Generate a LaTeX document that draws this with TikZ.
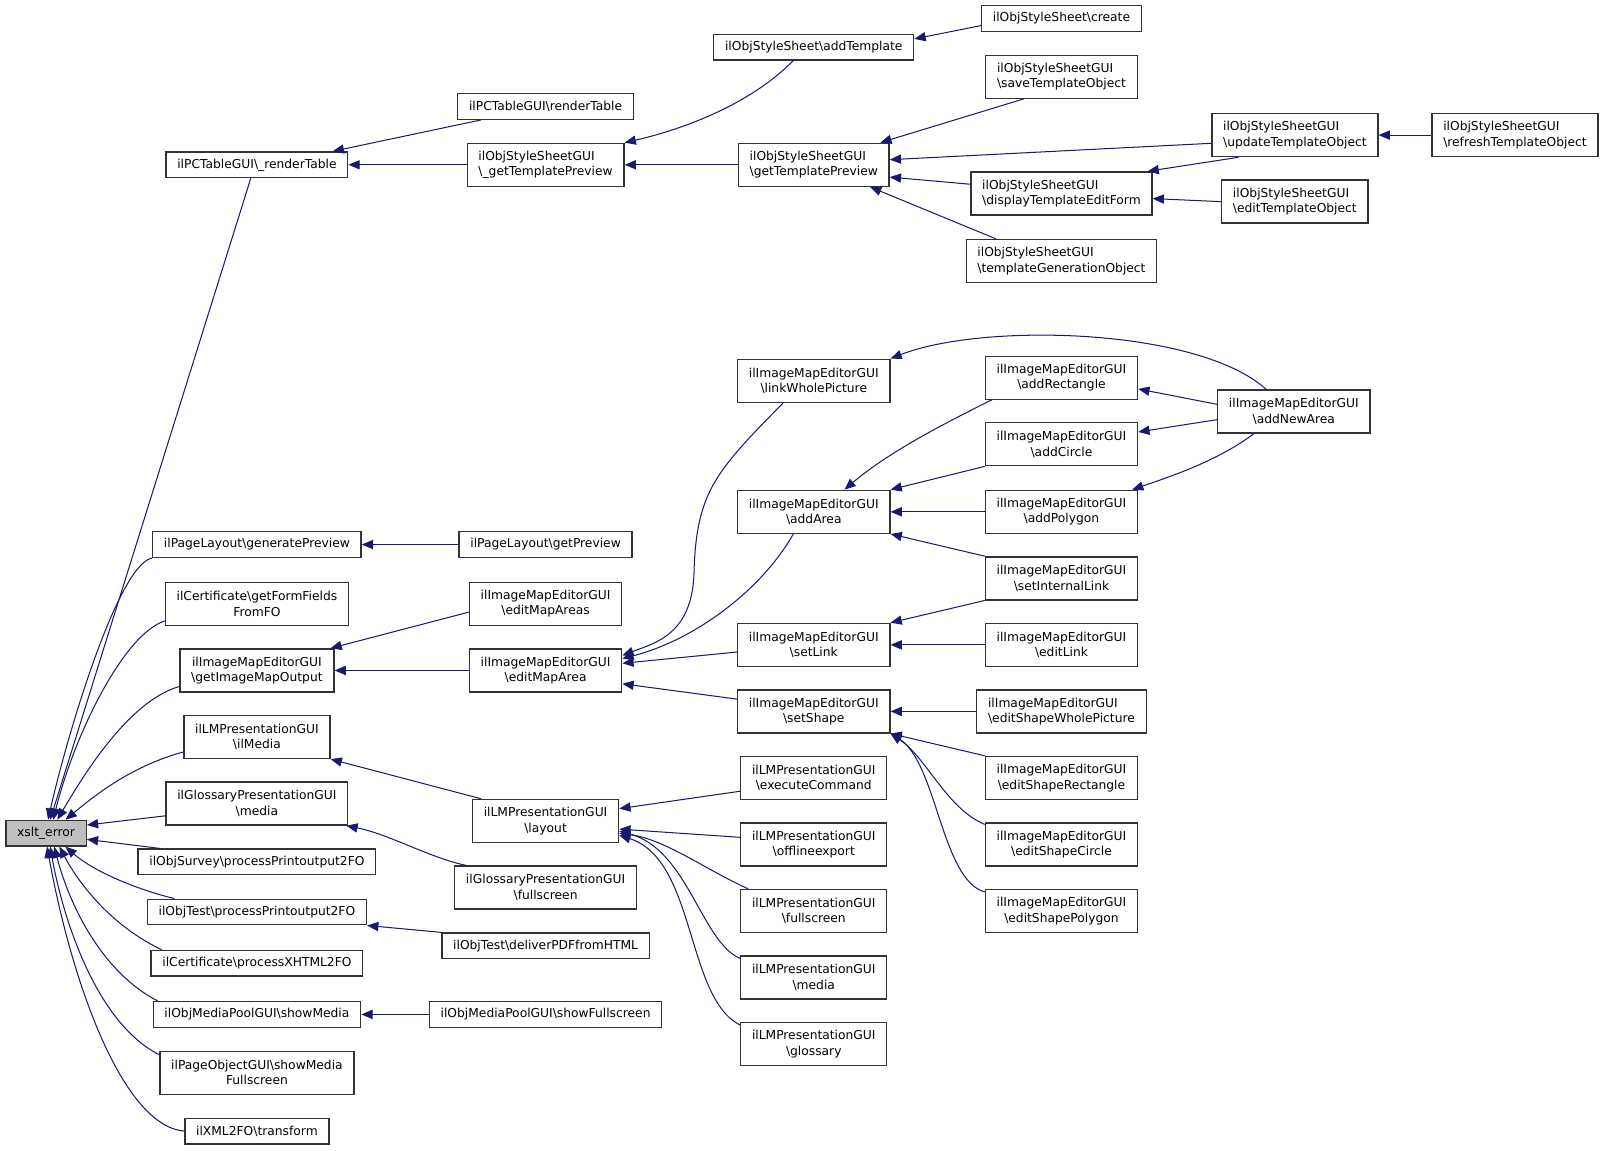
\documentclass[tikz,border=0pt]{standalone}
\usepackage{fontspec}
\setmainfont{DejaVu Sans}
\usetikzlibrary{arrows.meta}
\definecolor{azulnoche}{HTML}{191970}
\definecolor{bordegris}{HTML}{333333}
\definecolor{rellenogris}{HTML}{BFBFBF}
\newcommand{\barra}{\textbackslash}

\begin{document}
\begin{tikzpicture}[x=1pt,y=-1pt]
\tikzstyle{nodo funcion}=[draw=bordegris,line width=1.3pt,fill=white,inner xsep=11pt,inner ysep=3pt,minimum height=25pt,align=center,font=\fontsize{12}{15}\selectfont]
\tikzstyle{nodo doble}=[nodo funcion,minimum height=42pt]
\tikzstyle{nodo doble izq}=[nodo doble,align=left]
\tikzstyle{nodo raiz}=[nodo funcion,fill=rellenogris]
\tikzstyle{flecha}=[draw=azulnoche,line width=1pt,-{Triangle[length=11pt,width=9pt]}]

\useasboundingbox (0,0) rectangle (1568,1124);

\node[nodo raiz] (xslt) at (45,814) {xslt\_error};

% columna 1
\node[nodo funcion] (rendertbl) at (251,161) {ilPCTableGUI\barra\_renderTable};
\node[nodo funcion] (genprev) at (251,532) {ilPageLayout\barra{}generatePreview};
\node[nodo doble] (getform) at (251,590) {ilCertificate\barra{}getFormFields\\FromFO};
\node[nodo doble] (getimgmap) at (251,655) {ilImageMapEditorGUI\\\barra{}getImageMapOutput};
\node[nodo doble] (ilmedia) at (251,720) {ilLMPresentationGUI\\\barra{}ilMedia};
\node[nodo doble] (glosmedia) at (251,785) {ilGlossaryPresentationGUI\\\barra{}media};
\node[nodo funcion] (survey) at (251,842) {ilObjSurvey\barra{}processPrintoutput2FO};
\node[nodo funcion] (testprint) at (251,891) {ilObjTest\barra{}processPrintoutput2FO};
\node[nodo funcion] (xhtml) at (251,941) {ilCertificate\barra{}processXHTML2FO};
\node[nodo funcion] (showmedia) at (251,991) {ilObjMediaPoolGUI\barra{}showMedia};
\node[nodo doble] (pageobj) at (251,1048) {ilPageObjectGUI\barra{}showMedia\\Fullscreen};
\node[nodo funcion] (xml2fo) at (251,1105) {ilXML2FO\barra{}transform};

% columna 2
\node[nodo funcion] (pcrender) at (533,104) {ilPCTableGUI\barra{}renderTable};
\node[nodo doble izq] (gettplpriv) at (533,161) {ilObjStyleSheetGUI\\\barra\_getTemplatePreview};
\node[nodo funcion] (getprev) at (533,532) {ilPageLayout\barra{}getPreview};
\node[nodo doble] (editareas) at (533,590) {ilImageMapEditorGUI\\\barra{}editMapAreas};
\node[nodo doble] (editarea) at (533,655) {ilImageMapEditorGUI\\\barra{}editMapArea};
\node[nodo doble] (layout) at (533,802) {ilLMPresentationGUI\\\barra{}layout};
\node[nodo doble] (glosfull) at (533,867) {ilGlossaryPresentationGUI\\\barra{}fullscreen};
\node[nodo funcion] (deliverpdf) at (533,924) {ilObjTest\barra{}deliverPDFfromHTML};
\node[nodo funcion] (showfull) at (533,991) {ilObjMediaPoolGUI\barra{}showFullscreen};

% columna 3
\node[nodo funcion] (addtpl) at (795,46) {ilObjStyleSheet\barra{}addTemplate};
\node[nodo doble izq] (gettplprev) at (795,161) {ilObjStyleSheetGUI\\\barra{}getTemplatePreview};
\node[nodo doble] (linkwhole) at (795,372) {ilImageMapEditorGUI\\\barra{}linkWholePicture};
\node[nodo doble] (addarea) at (795,500) {ilImageMapEditorGUI\\\barra{}addArea};
\node[nodo doble] (setlink) at (795,630) {ilImageMapEditorGUI\\\barra{}setLink};
\node[nodo doble] (setshape) at (795,695) {ilImageMapEditorGUI\\\barra{}setShape};
\node[nodo doble] (execcmd) at (795,760) {ilLMPresentationGUI\\\barra{}executeCommand};
\node[nodo doble] (offline) at (795,825) {ilLMPresentationGUI\\\barra{}offlineexport};
\node[nodo doble] (lmfull) at (795,890) {ilLMPresentationGUI\\\barra{}fullscreen};
\node[nodo doble] (lmmedia) at (795,955) {ilLMPresentationGUI\\\barra{}media};
\node[nodo doble] (lmgloss) at (795,1020) {ilLMPresentationGUI\\\barra{}glossary};

% columna 4
\node[nodo funcion] (create) at (1037,18) {ilObjStyleSheet\barra{}create};
\node[nodo doble izq] (savetpl) at (1037,75) {ilObjStyleSheetGUI\\\barra{}saveTemplateObject};
\node[nodo doble izq] (disptpl) at (1037,189) {ilObjStyleSheetGUI\\\barra{}displayTemplateEditForm};
\node[nodo doble izq] (tplgen) at (1037,255) {ilObjStyleSheetGUI\\\barra{}templateGenerationObject};
\node[nodo doble] (addrect) at (1037,369) {ilImageMapEditorGUI\\\barra{}addRectangle};
\node[nodo doble] (addcircle) at (1037,434) {ilImageMapEditorGUI\\\barra{}addCircle};
\node[nodo doble] (addpoly) at (1037,500) {ilImageMapEditorGUI\\\barra{}addPolygon};
\node[nodo doble] (setintlink) at (1037,565) {ilImageMapEditorGUI\\\barra{}setInternalLink};
\node[nodo doble] (editlink) at (1037,630) {ilImageMapEditorGUI\\\barra{}editLink};
\node[nodo doble izq] (editwhole) at (1037,695) {ilImageMapEditorGUI\\\barra{}editShapeWholePicture};
\node[nodo doble] (editrect) at (1037,760) {ilImageMapEditorGUI\\\barra{}editShapeRectangle};
\node[nodo doble] (editcircle) at (1037,825) {ilImageMapEditorGUI\\\barra{}editShapeCircle};
\node[nodo doble] (editpoly) at (1037,890) {ilImageMapEditorGUI\\\barra{}editShapePolygon};

% columnas 5 y 6
\node[nodo doble izq] (updtpl) at (1265,132) {ilObjStyleSheetGUI\\\barra{}updateTemplateObject};
\node[nodo doble izq] (edittpl) at (1265,197) {ilObjStyleSheetGUI\\\barra{}editTemplateObject};
\node[nodo doble] (addnew) at (1264,402) {ilImageMapEditorGUI\\\barra{}addNewArea};
\node[nodo doble izq] (refreshtpl) at (1480,132) {ilObjStyleSheetGUI\\\barra{}refreshTemplateObject};

% llamadas a xslt_error
\draw[flecha] ([xshift=-6pt]rendertbl.south) -- ([xshift=4pt]xslt.north);
\draw[flecha] (genprev.south west) .. controls (115,552) and (65,720) .. ([xshift=2pt]xslt.north);
\draw[flecha] ([yshift=5pt]getform.south west) .. controls (120,620) and (72,720) .. ([xshift=7pt]xslt.north);
\draw[flecha] ([yshift=6pt]getimgmap.south west) .. controls (125,685) and (80,760) .. ([xshift=11pt]xslt.north);
\draw[flecha] ([yshift=7pt]ilmedia.south west) .. controls (130,748) and (95,775) .. ([xshift=19pt]xslt.north);
\draw[flecha] ([yshift=-12pt]glosmedia.west) -- ([yshift=8pt]xslt.east);
\draw[flecha] ([xshift=22pt]survey.north west) -- ([yshift=-6pt]xslt.east);
\draw[flecha] ([xshift=27pt]testprint.north west) .. controls (130,868) and (90,850) .. ([xshift=19pt]xslt.south);
\draw[flecha] ([xshift=11pt]xhtml.north west) .. controls (110,905) and (78,865) .. ([xshift=13pt]xslt.south);
\draw[flecha] ([xshift=5pt]showmedia.north west) .. controls (100,950) and (68,885) .. ([xshift=8pt]xslt.south);
\draw[flecha] ([yshift=-4pt]pageobj.north west) .. controls (95,1000) and (62,900) .. ([xshift=4pt]xslt.south);
\draw[flecha] (xml2fo.west) .. controls (120,1100) and (70,960) .. ([xshift=1pt]xslt.south);

% ilObjStyleSheet
\draw[flecha] ([xshift=-63pt]pcrender.south) -- ([xshift=74pt]rendertbl.north);
\draw[flecha] (gettplpriv.west) -- (rendertbl.east);
\draw[flecha] ([xshift=-20pt]addtpl.south) .. controls (730,105) and (660,128) .. (gettplpriv.north east);
\draw[flecha] (gettplprev.west) -- (gettplpriv.east);
\draw[flecha] ([yshift=-7pt]create.west) -- ([yshift=8pt]addtpl.east);
\draw[flecha] ([xshift=-37pt]savetpl.south) -- ([xshift=65pt]gettplprev.north);
\draw[flecha] ([yshift=-8pt]updtpl.west) -- ([yshift=5pt]gettplprev.east);
\draw[flecha] ([yshift=9pt]disptpl.west) -- ([yshift=-12pt]gettplprev.east);
\draw[flecha] ([xshift=-64pt]tplgen.north) -- ([xshift=55pt]gettplprev.south);
\draw[flecha] (refreshtpl.west) -- (updtpl.east);
\draw[flecha] ([xshift=-55pt]updtpl.south) -- ([xshift=-5pt]disptpl.north east);
\draw[flecha] (edittpl.west) -- ([yshift=-5pt]disptpl.east);

% columna 1 y 2
\draw[flecha] (getprev.west) -- (genprev.east);
\draw[flecha] ([yshift=-8pt]editareas.west) -- ([xshift=-4pt]getimgmap.north east);
\draw[flecha] (editarea.west) -- (getimgmap.east);
\draw[flecha] ([xshift=-63pt]layout.north) -- (ilmedia.south east);
\draw[flecha] ([xshift=-78pt]glosfull.north) .. controls (420,838) and (380,815) .. ([xshift=-2pt]glosmedia.south east);
\draw[flecha] (deliverpdf.north west) -- (testprint.south east);
\draw[flecha] (showfull.west) -- (showmedia.east);

% ilImageMapEditorGUI
\draw[flecha] ([xshift=-30pt]linkwhole.south) .. controls (700,460) and (680,480) .. (678,560) .. controls (676,620) and (640,628) .. ([yshift=-7pt]editarea.north east);
\draw[flecha] ([xshift=-20pt]addarea.south) .. controls (745,575) and (680,625) .. ([yshift=-10pt]editarea.north east);
\draw[flecha] ([yshift=-7pt]setlink.west) -- ([yshift=7pt]editarea.east);
\draw[flecha] ([yshift=12pt]setshape.west) -- ([yshift=-13pt]editarea.east);
\draw[flecha] ([xshift=-27pt]addnew.north) .. controls (1170,320) and (960,315) .. (linkwhole.north east);
\draw[flecha] ([yshift=7pt]addnew.west) -- ([yshift=-11pt]addrect.east);
\draw[flecha] ([yshift=-8pt]addnew.west) -- ([yshift=12pt]addcircle.east);
\draw[flecha] ([xshift=-39pt]addnew.south) .. controls (1190,450) and (1145,465) .. ([xshift=-6pt]addpoly.north east);
\draw[flecha] ([xshift=7pt]addrect.south west) .. controls (930,410) and (870,440) .. ([xshift=30pt]addarea.north);
\draw[flecha] (addcircle.south west) -- (addarea.north east);
\draw[flecha] (addpoly.west) -- (addarea.east);
\draw[flecha] (setintlink.north west) -- (addarea.south east);
\draw[flecha] (setintlink.south west) -- (setlink.north east);
\draw[flecha] (editlink.west) -- (setlink.east);
\draw[flecha] (editwhole.west) -- (setshape.east);
\draw[flecha] (editrect.north west) -- (setshape.south east);
\draw[flecha] ([yshift=-2pt]editcircle.north west) .. controls (925,790) and (905,740) .. (setshape.south east);
\draw[flecha] ([yshift=-3pt]editpoly.north west) .. controls (920,860) and (915,745) .. (setshape.south east);

% ilLMPresentationGUI
\draw[flecha] ([yshift=-13pt]execcmd.west) -- ([yshift=12pt]layout.east);
\draw[flecha] ([yshift=7pt]offline.west) -- ([yshift=-8pt]layout.east);
\draw[flecha] ([xshift=8pt]lmfull.north west) .. controls (690,850) and (650,820) .. ([yshift=-12pt]layout.east);
\draw[flecha] ([yshift=-3pt]lmmedia.north west) .. controls (685,920) and (672,830) .. ([yshift=-10pt]layout.east);
\draw[flecha] ([yshift=-3pt]lmgloss.north west) .. controls (670,975) and (680,840) .. ([yshift=-14pt]layout.east);
\end{tikzpicture}
\end{document}
